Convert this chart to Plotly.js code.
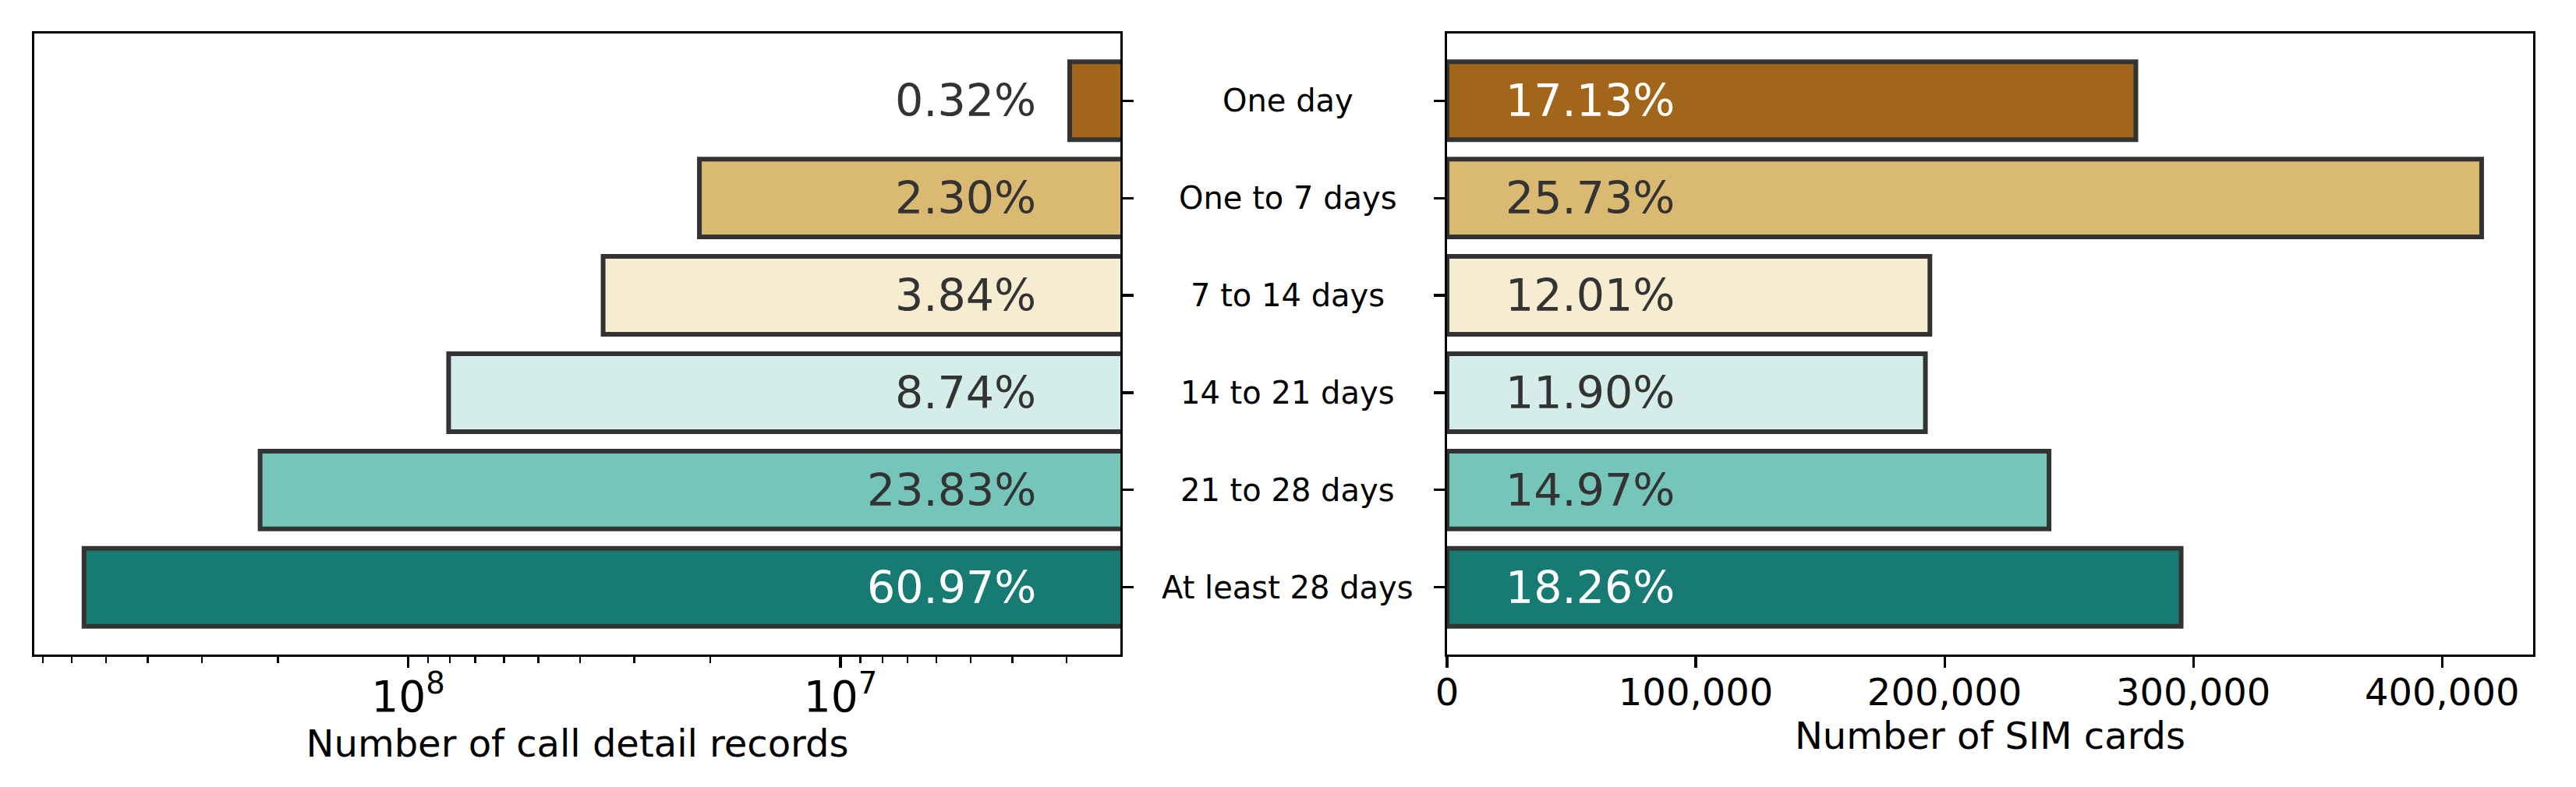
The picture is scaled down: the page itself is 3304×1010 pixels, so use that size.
<!DOCTYPE html>
<html>
<head>
<meta charset="utf-8">
<script src="https://cdn.plot.ly/plotly-3.0.1.min.js"></script>
<style>
  html, body { margin: 0; padding: 0; background: #fff; }
  #graph { width: 3304px; height: 1010px; }
</style>
</head>
<body>
<div id="graph"></div>
<script>
const categories = ['One day', 'One to 7 days', '7 to 14 days', '14 to 21 days', '21 to 28 days', 'At least 28 days'];
const cdrCounts = [2.95e6, 2.12e7, 3.54e7, 8.06e7, 2.20e8, 5.62e8];
const cdrShares = ['0.32%', '2.30%', '3.84%', '8.74%', '23.83%', '60.97%'];
const simCounts = [276900, 415900, 194100, 192300, 242000, 295100];
const simShares = ['17.13%', '25.73%', '12.01%', '11.90%', '14.97%', '18.26%'];
const simTicks = [0, 100000, 200000, 300000, 400000];

const barColors = ['#a2661a', '#dab972', '#f6ecd1', '#d4ede9', '#75c5ba', '#177b73'];
const cdrTextColors = ['#333333', '#333333', '#333333', '#333333', '#333333', '#ffffff'];
const simTextColors = ['#ffffff', '#333333', '#333333', '#333333', '#333333', '#ffffff'];

const FONT = 'DejaVu Sans';
const edge = { color: '#333333', width: 6 };

const cdrTrace = {
  type: 'bar', orientation: 'h',
  x: cdrCounts, y: categories,
  xaxis: 'x', yaxis: 'y',
  width: 0.8,
  marker: { color: barColors, line: edge },
  hoverinfo: 'skip'
};
const simTrace = {
  type: 'bar', orientation: 'h',
  x: simCounts, y: categories,
  xaxis: 'x2', yaxis: 'y2',
  width: 0.8,
  marker: { color: barColors, line: edge },
  hoverinfo: 'skip'
};

const annotations = [];
categories.forEach((c, i) => {
  annotations.push({
    x: Math.log10(3.5e6), y: c, xref: 'x', yref: 'y',
    text: cdrShares[i], showarrow: false, xanchor: 'right', yanchor: 'middle',
    font: { family: FONT, size: 57, color: cdrTextColors[i] }
  });
  annotations.push({
    x: 23000, y: c, xref: 'x2', yref: 'y2',
    text: simShares[i], showarrow: false, xanchor: 'left', yanchor: 'middle',
    font: { family: FONT, size: 57, color: simTextColors[i] }
  });
  annotations.push({
    x: 0.5017, y: c, xref: 'paper', yref: 'y',
    text: c, showarrow: false, xanchor: 'center', yanchor: 'middle',
    font: { family: FONT, size: 40, color: '#000' }
  });
});

const yBase = {
  type: 'category',
  categoryorder: 'array', categoryarray: categories,
  range: [5.69, -0.69],
  showticklabels: false,
  ticks: 'outside', ticklen: 14, tickwidth: 3.2, tickcolor: '#000',
  showline: true, mirror: true, linecolor: '#000', linewidth: 3.4,
  showgrid: false, zeroline: false, fixedrange: true
};

const layout = {
  width: 3304, height: 1010,
  margin: { l: 44, r: 55, t: 43, b: 170, pad: 0 },
  paper_bgcolor: '#fff', plot_bgcolor: '#fff',
  showlegend: false,
  font: { family: FONT, size: 48, color: '#000' },
  xaxis: {
    type: 'log', domain: [0, 0.43463], anchor: 'y',
    range: [8.8647, 6.3526],
    dtick: 1, exponentformat: 'power',
    ticks: 'outside', ticklen: 14, tickwidth: 3.2, tickcolor: '#000',
    ticklabelstandoff: -8,
    minor: { ticks: 'outside', ticklen: 7.5, tickwidth: 2.4, tickcolor: '#000', dtick: 'D1', showgrid: false },
    showline: true, mirror: true, linecolor: '#000', linewidth: 3.4,
    showgrid: false, zeroline: false,
    tickfont: { family: FONT, size: 44, color: '#000' },
    title: { text: 'Number of call detail records', font: { family: FONT, size: 48, color: '#000' }, standoff: 12 }
  },
  xaxis2: {
    domain: [0.56537, 1], anchor: 'y2',
    range: [0, 436600],
    tickvals: simTicks, tickformat: ',d',
    ticks: 'outside', ticklen: 14, tickwidth: 3.2, tickcolor: '#000',
    ticklabelstandoff: -10,
    showline: true, mirror: true, linecolor: '#000', linewidth: 3.4,
    showgrid: false, zeroline: false,
    tickfont: { family: FONT, size: 48, color: '#000' },
    title: { text: 'Number of SIM cards', font: { family: FONT, size: 48, color: '#000' }, standoff: 12 }
  },
  yaxis: Object.assign({}, yBase, { anchor: 'x', side: 'right' }),
  yaxis2: Object.assign({}, yBase, { anchor: 'x2', side: 'left' }),
  annotations: annotations
};

Plotly.newPlot('graph', [cdrTrace, simTrace], layout, { displayModeBar: false, staticPlot: true });
</script>
</body>
</html>
